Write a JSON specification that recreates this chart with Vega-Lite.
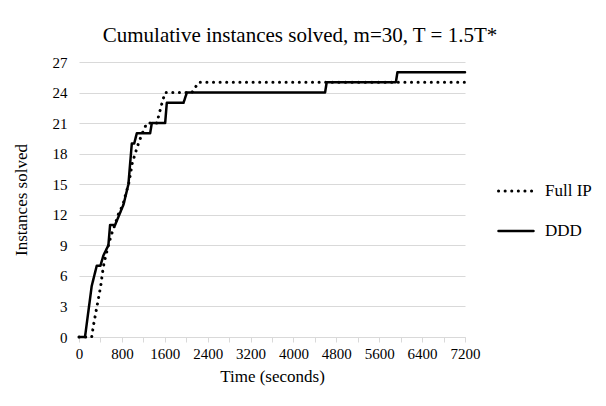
{
  "$schema": "https://vega.github.io/schema/vega-lite/v6.json",
  "width": 386,
  "height": 275,
  "autosize": "none",
  "padding": {"left": 79, "top": 62, "right": 141, "bottom": 69},
  "background": "white",
  "title": {
    "text": "Cumulative instances solved, m=30, T = 1.5T*",
    "font": "Liberation Serif",
    "fontSize": 21,
    "fontWeight": "normal",
    "color": "#000000",
    "anchor": "middle",
    "dx": 28,
    "offset": 9
  },
  "data": {
    "values": [
      {"series": "Full IP", "t": 0, "n": 0},
      {"series": "Full IP", "t": 237, "n": 0},
      {"series": "Full IP", "t": 265, "n": 1},
      {"series": "Full IP", "t": 300, "n": 2},
      {"series": "Full IP", "t": 335, "n": 3},
      {"series": "Full IP", "t": 370, "n": 4},
      {"series": "Full IP", "t": 405, "n": 5},
      {"series": "Full IP", "t": 430, "n": 6},
      {"series": "Full IP", "t": 458, "n": 7},
      {"series": "Full IP", "t": 500, "n": 8},
      {"series": "Full IP", "t": 550, "n": 9},
      {"series": "Full IP", "t": 600, "n": 10},
      {"series": "Full IP", "t": 670, "n": 11},
      {"series": "Full IP", "t": 730, "n": 12},
      {"series": "Full IP", "t": 820, "n": 13},
      {"series": "Full IP", "t": 870, "n": 14},
      {"series": "Full IP", "t": 925, "n": 15},
      {"series": "Full IP", "t": 960, "n": 16},
      {"series": "Full IP", "t": 990, "n": 17},
      {"series": "Full IP", "t": 1047, "n": 18},
      {"series": "Full IP", "t": 1109, "n": 19},
      {"series": "Full IP", "t": 1180, "n": 20},
      {"series": "Full IP", "t": 1265, "n": 21},
      {"series": "Full IP", "t": 1452, "n": 21},
      {"series": "Full IP", "t": 1500, "n": 22},
      {"series": "Full IP", "t": 1550, "n": 23},
      {"series": "Full IP", "t": 1607, "n": 24},
      {"series": "Full IP", "t": 2106, "n": 24},
      {"series": "Full IP", "t": 2230, "n": 25},
      {"series": "Full IP", "t": 7200, "n": 25},
      {"series": "DDD", "t": 0, "n": 0},
      {"series": "DDD", "t": 112, "n": 0},
      {"series": "DDD", "t": 237, "n": 5},
      {"series": "DDD", "t": 331, "n": 7},
      {"series": "DDD", "t": 400, "n": 7},
      {"series": "DDD", "t": 455, "n": 8},
      {"series": "DDD", "t": 548, "n": 9},
      {"series": "DDD", "t": 580, "n": 11},
      {"series": "DDD", "t": 673, "n": 11},
      {"series": "DDD", "t": 830, "n": 13},
      {"series": "DDD", "t": 922, "n": 15},
      {"series": "DDD", "t": 985, "n": 19},
      {"series": "DDD", "t": 1030, "n": 19},
      {"series": "DDD", "t": 1078, "n": 20},
      {"series": "DDD", "t": 1327, "n": 20},
      {"series": "DDD", "t": 1358, "n": 21},
      {"series": "DDD", "t": 1607, "n": 21},
      {"series": "DDD", "t": 1638, "n": 23},
      {"series": "DDD", "t": 1950, "n": 23},
      {"series": "DDD", "t": 2012, "n": 24},
      {"series": "DDD", "t": 4590, "n": 24},
      {"series": "DDD", "t": 4620, "n": 25},
      {"series": "DDD", "t": 5910, "n": 25},
      {"series": "DDD", "t": 5940, "n": 26},
      {"series": "DDD", "t": 7200, "n": 26}
    ]
  },
  "mark": {"type": "line", "color": "black", "strokeCap": "round", "strokeJoin": "round"},
  "encoding": {
    "x": {
      "field": "t",
      "type": "quantitative",
      "scale": {"domain": [0, 7200], "nice": false, "zero": true},
      "axis": {
        "title": "Time (seconds)",
        "values": [0, 400, 800, 1200, 1600, 2000, 2400, 2800, 3200, 3600, 4000, 4400, 4800, 5200, 5600, 6000, 6400, 6800, 7200],
        "labelExpr": "datum.value % 800 == 0 ? format(datum.value, 'd') : ''",
        "grid": false,
        "domainColor": "#d9d9d9",
        "tickColor": "#d9d9d9",
        "tickSize": 5,
        "labelFont": "Liberation Serif",
        "labelFontSize": 15,
        "labelColor": "#000000",
        "labelPadding": 4,
        "labelFlush": false,
        "labelOverlap": false,
        "titleFont": "Liberation Serif",
        "titleFontSize": 17,
        "titleFontWeight": "normal",
        "titleColor": "#000000",
        "titlePadding": 7
      }
    },
    "y": {
      "field": "n",
      "type": "quantitative",
      "scale": {"domain": [0, 27], "nice": false},
      "axis": {
        "title": "Instances solved",
        "values": [0, 3, 6, 9, 12, 15, 18, 21, 24, 27],
        "grid": true,
        "gridColor": "#d9d9d9",
        "domain": false,
        "ticks": false,
        "labelFont": "Liberation Serif",
        "labelFontSize": 15,
        "labelColor": "#000000",
        "labelPadding": 12,
        "titleFont": "Liberation Serif",
        "titleFontSize": 17,
        "titleFontWeight": "normal",
        "titleColor": "#000000",
        "titlePadding": 22
      }
    },
    "strokeDash": {
      "field": "series",
      "type": "nominal",
      "scale": {"domain": ["Full IP", "DDD"], "range": [[0.1, 6.5], [1, 0]]},
      "legend": {
        "title": null,
        "orient": "none",
        "legendX": 418,
        "legendY": 110,
        "symbolType": "stroke",
        "symbolSize": 1225,
        "symbolStrokeWidth": 3,
        "symbolStrokeColor": "black",
        "labelFont": "Liberation Serif",
        "labelFontSize": 17,
        "labelColor": "#000000",
        "labelOffset": 10,
        "rowPadding": 13,
        "encode": {"symbols": {"update": {"strokeCap": {"value": "round"}}}}
      }
    },
    "strokeWidth": {
      "field": "series",
      "type": "nominal",
      "scale": {"domain": ["Full IP", "DDD"], "range": [3, 2.5]},
      "legend": null
    }
  },
  "config": {"view": {"stroke": null}}
}
